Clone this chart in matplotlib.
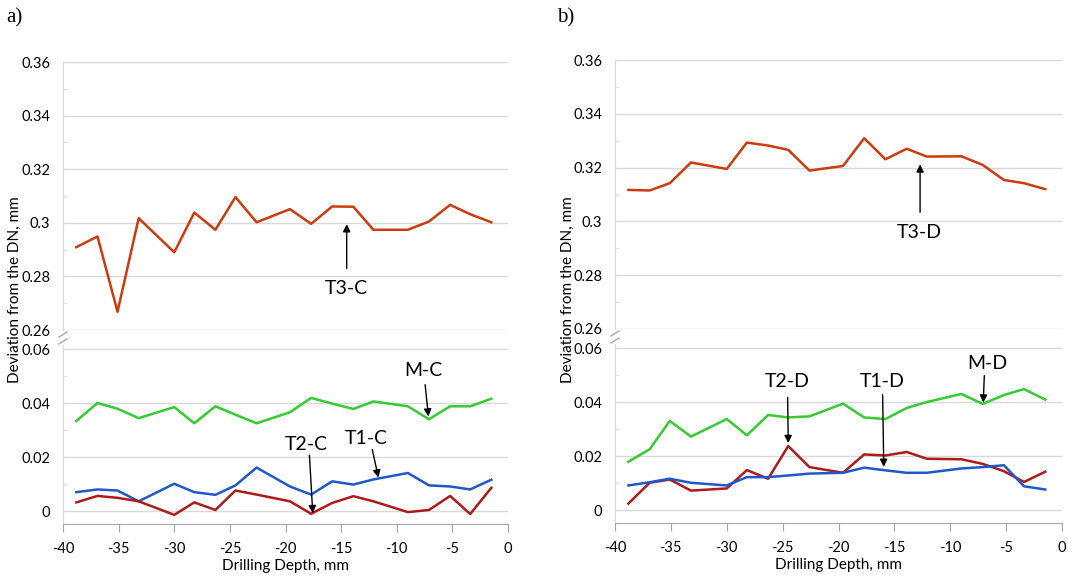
import numpy as np
import matplotlib
matplotlib.use("Agg")
import matplotlib.pyplot as plt
from matplotlib.ticker import FixedLocator, FuncFormatter
from matplotlib.lines import Line2D

plt.rcParams['font.family'] = ['Lato', 'DejaVu Sans']
plt.rcParams['axes.unicode_minus'] = False

# drilling depth positions, mm (same for both panels)
depth = [-38.8, -36.9, -35.1, -33.2, -30.0, -28.2, -26.3, -24.5, -22.6, -19.6,
         -17.7, -15.8, -13.9, -12.1, -9.0, -7.1, -5.2, -3.4, -1.5]

# panel a) - "C" series
t3_c = [0.2909, 0.2949, 0.2668, 0.3017, 0.2890, 0.3038, 0.2974, 0.3096, 0.3002, 0.3051,
        0.2996, 0.3061, 0.3060, 0.2974, 0.2974, 0.3005, 0.3067, 0.3032, 0.3002]
m_c = [0.0334, 0.0400, 0.0379, 0.0344, 0.0385, 0.0325, 0.0388, 0.0357, 0.0325, 0.0366,
       0.0419, 0.0398, 0.0378, 0.0406, 0.0388, 0.0340, 0.0388, 0.0388, 0.0416]
t1_c = [0.0070, 0.0080, 0.0076, 0.0036, 0.0101, 0.0070, 0.0060, 0.0095, 0.0161, 0.0091,
        0.0061, 0.0110, 0.0098, 0.0117, 0.0141, 0.0095, 0.0091, 0.0080, 0.0116]
t2_c = [0.0032, 0.0056, 0.0049, 0.0036, -0.0014, 0.0032, 0.0004, 0.0076, 0.0061, 0.0036,
        -0.0010, 0.0030, 0.0055, 0.0036, -0.0004, 0.0004, 0.0056, -0.0011, 0.0086]

# panel b) - "D" series
t3_d = [0.3117, 0.3115, 0.3142, 0.3219, 0.3195, 0.3293, 0.3282, 0.3266, 0.3189, 0.3206,
        0.3309, 0.3231, 0.3270, 0.3241, 0.3242, 0.3210, 0.3154, 0.3142, 0.3120]
m_d = [0.0179, 0.0225, 0.0330, 0.0272, 0.0337, 0.0277, 0.0352, 0.0343, 0.0347, 0.0394,
       0.0343, 0.0337, 0.0378, 0.0400, 0.0430, 0.0393, 0.0426, 0.0448, 0.0409]
t2_d = [0.0024, 0.0101, 0.0113, 0.0072, 0.0080, 0.0148, 0.0116, 0.0237, 0.0159, 0.0138,
        0.0206, 0.0202, 0.0215, 0.0190, 0.0188, 0.0171, 0.0144, 0.0104, 0.0142]
t1_d = [0.0091, 0.0103, 0.0116, 0.0101, 0.0091, 0.0122, 0.0122, 0.0128, 0.0135, 0.0138,
        0.0157, 0.0147, 0.0138, 0.0138, 0.0154, 0.0159, 0.0166, 0.0088, 0.0076]

x_ticks = list(range(-40, 1, 5))
upper_ticks = [0.26, 0.28, 0.30, 0.32, 0.34, 0.36]
lower_ticks = [0.0, 0.02, 0.04, 0.06]

# label, text position, arrow tail, arrow tip  (data coords)
notes_a_top = [("T3-C", (-14.5, 0.2755), (-14.5, 0.2830), (-14.5, 0.2995))]
notes_a_bot = [("M-C", (-7.6, 0.0520), (-7.45, 0.0468), (-7.15, 0.0350)),
               ("T2-C", (-18.1, 0.0245), (-17.85, 0.0207), (-17.55, -0.0008)),
               ("T1-C", (-12.7, 0.0270), (-12.2, 0.0228), (-11.65, 0.0124))]
notes_b_top = [("T3-D", (-12.8, 0.2960), (-12.7, 0.3034), (-12.7, 0.3212))]
notes_b_bot = [("T2-D", (-24.6, 0.0475), (-24.55, 0.0418), (-24.5, 0.0248)),
               ("T1-D", (-16.1, 0.0475), (-16.05, 0.0427), (-15.95, 0.0160)),
               ("M-D", (-6.7, 0.0543), (-6.95, 0.0498), (-7.05, 0.0398))]

C_T3 = '#cc3a0e'
C_M = '#33cc33'
C_T1 = '#1f58c8'
C_T2 = '#ad1a1a'
GRID = '#d9d9d9'

W, H = 1081, 577
fig = plt.figure(figsize=(W / 100, H / 100), dpi=100)


def px_axes(left, right, top, bottom):
    return fig.add_axes([left / W, 1 - bottom / H, (right - left) / W, (bottom - top) / H])


def fmt(v, pos):
    return f"{round(v, 3):g}"


def style(ax, ticks, minor, is_bottom):
    ax.set_xlim(-40, 0)
    ax.yaxis.set_major_locator(FixedLocator(ticks))
    ax.yaxis.set_minor_locator(FixedLocator(minor))
    ax.yaxis.set_major_formatter(FuncFormatter(fmt))
    ax.grid(True, axis='y', color=GRID, lw=1)
    ax.set_axisbelow(True)
    for s in ['top', 'right']:
        ax.spines[s].set_visible(False)
    ax.spines['left'].set_color(GRID)
    ax.tick_params(axis='y', which='major', length=0, pad=9, labelsize=10.5)
    ax.tick_params(axis='y', which='minor', length=3, direction='in', color=GRID)
    if is_bottom:
        ax.spines['bottom'].set_color('#a6a6a6')
        ax.xaxis.set_major_locator(FixedLocator(x_ticks))
        ax.xaxis.set_major_formatter(FuncFormatter(lambda v, p: f"{v:g}"))
        ax.tick_params(axis='x', length=6, color='#a6a6a6', labelsize=10.5, pad=7)
    else:
        ax.spines['bottom'].set_visible(False)
        ax.set_xticks([])


def annotate(ax, notes):
    for label, tpos, tail, tip in notes:
        ax.text(tpos[0], tpos[1], label, fontsize=14, ha='center', va='center')
        ax.annotate('', xy=tip, xytext=tail,
                    arrowprops=dict(arrowstyle='-|>', color='black', lw=1,
                                    mutation_scale=11, shrinkA=0, shrinkB=0))


def panel(left, right, top_y, brk_y, axis_y, upper, lower, n_top, n_bot, tag, tag_x, ylab_x):
    ax_t = px_axes(left, right, top_y, brk_y)
    ax_b = px_axes(left, right, brk_y + 15, axis_y)
    ax_t.plot(depth, upper, color=C_T3, lw=1.8)
    ax_t.set_ylim(0.26, 0.36)
    style(ax_t, upper_ticks, [0.27, 0.29, 0.31, 0.33, 0.35], False)
    for name, vals, col in lower:
        ax_b.plot(depth, vals, color=col, lw=1.8)
    ax_b.set_ylim(-0.0048, 0.0615)
    style(ax_b, lower_ticks, [0.01, 0.03, 0.05], True)
    ax_b.set_xlabel('Drilling Depth, mm', fontsize=11, labelpad=2)
    annotate(ax_t, n_top)
    annotate(ax_b, n_bot)
    # axis break marks
    for dy in (0, 7):
        fig.add_artist(Line2D([(left - 4) / W, (left + 4) / W],
                              [1 - (brk_y + 7 + dy) / H, 1 - (brk_y + 2 + dy) / H],
                              color='#a6a6a6', lw=1))
    fig.text(ylab_x / W, 1 - 290 / H, 'Deviation from the DN, mm', rotation=90,
             ha='center', va='center', fontsize=11)
    fig.text(tag_x / W, 1 - 18 / H, tag, family=['Liberation Serif'], fontsize=15,
             ha='left', va='center')


panel(63, 508, 62, 330, 524, t3_c,
      [("M-C", m_c, C_M), ("T1-C", t1_c, C_T1), ("T2-C", t2_c, C_T2)],
      notes_a_top, notes_a_bot, 'a)', 6, 15)
panel(615, 1062, 60, 329, 523, t3_d,
      [("M-D", m_d, C_M), ("T2-D", t2_d, C_T2), ("T1-D", t1_d, C_T1)],
      notes_b_top, notes_b_bot, 'b)', 557, 568)

fig.savefig('out.png', dpi=100)
